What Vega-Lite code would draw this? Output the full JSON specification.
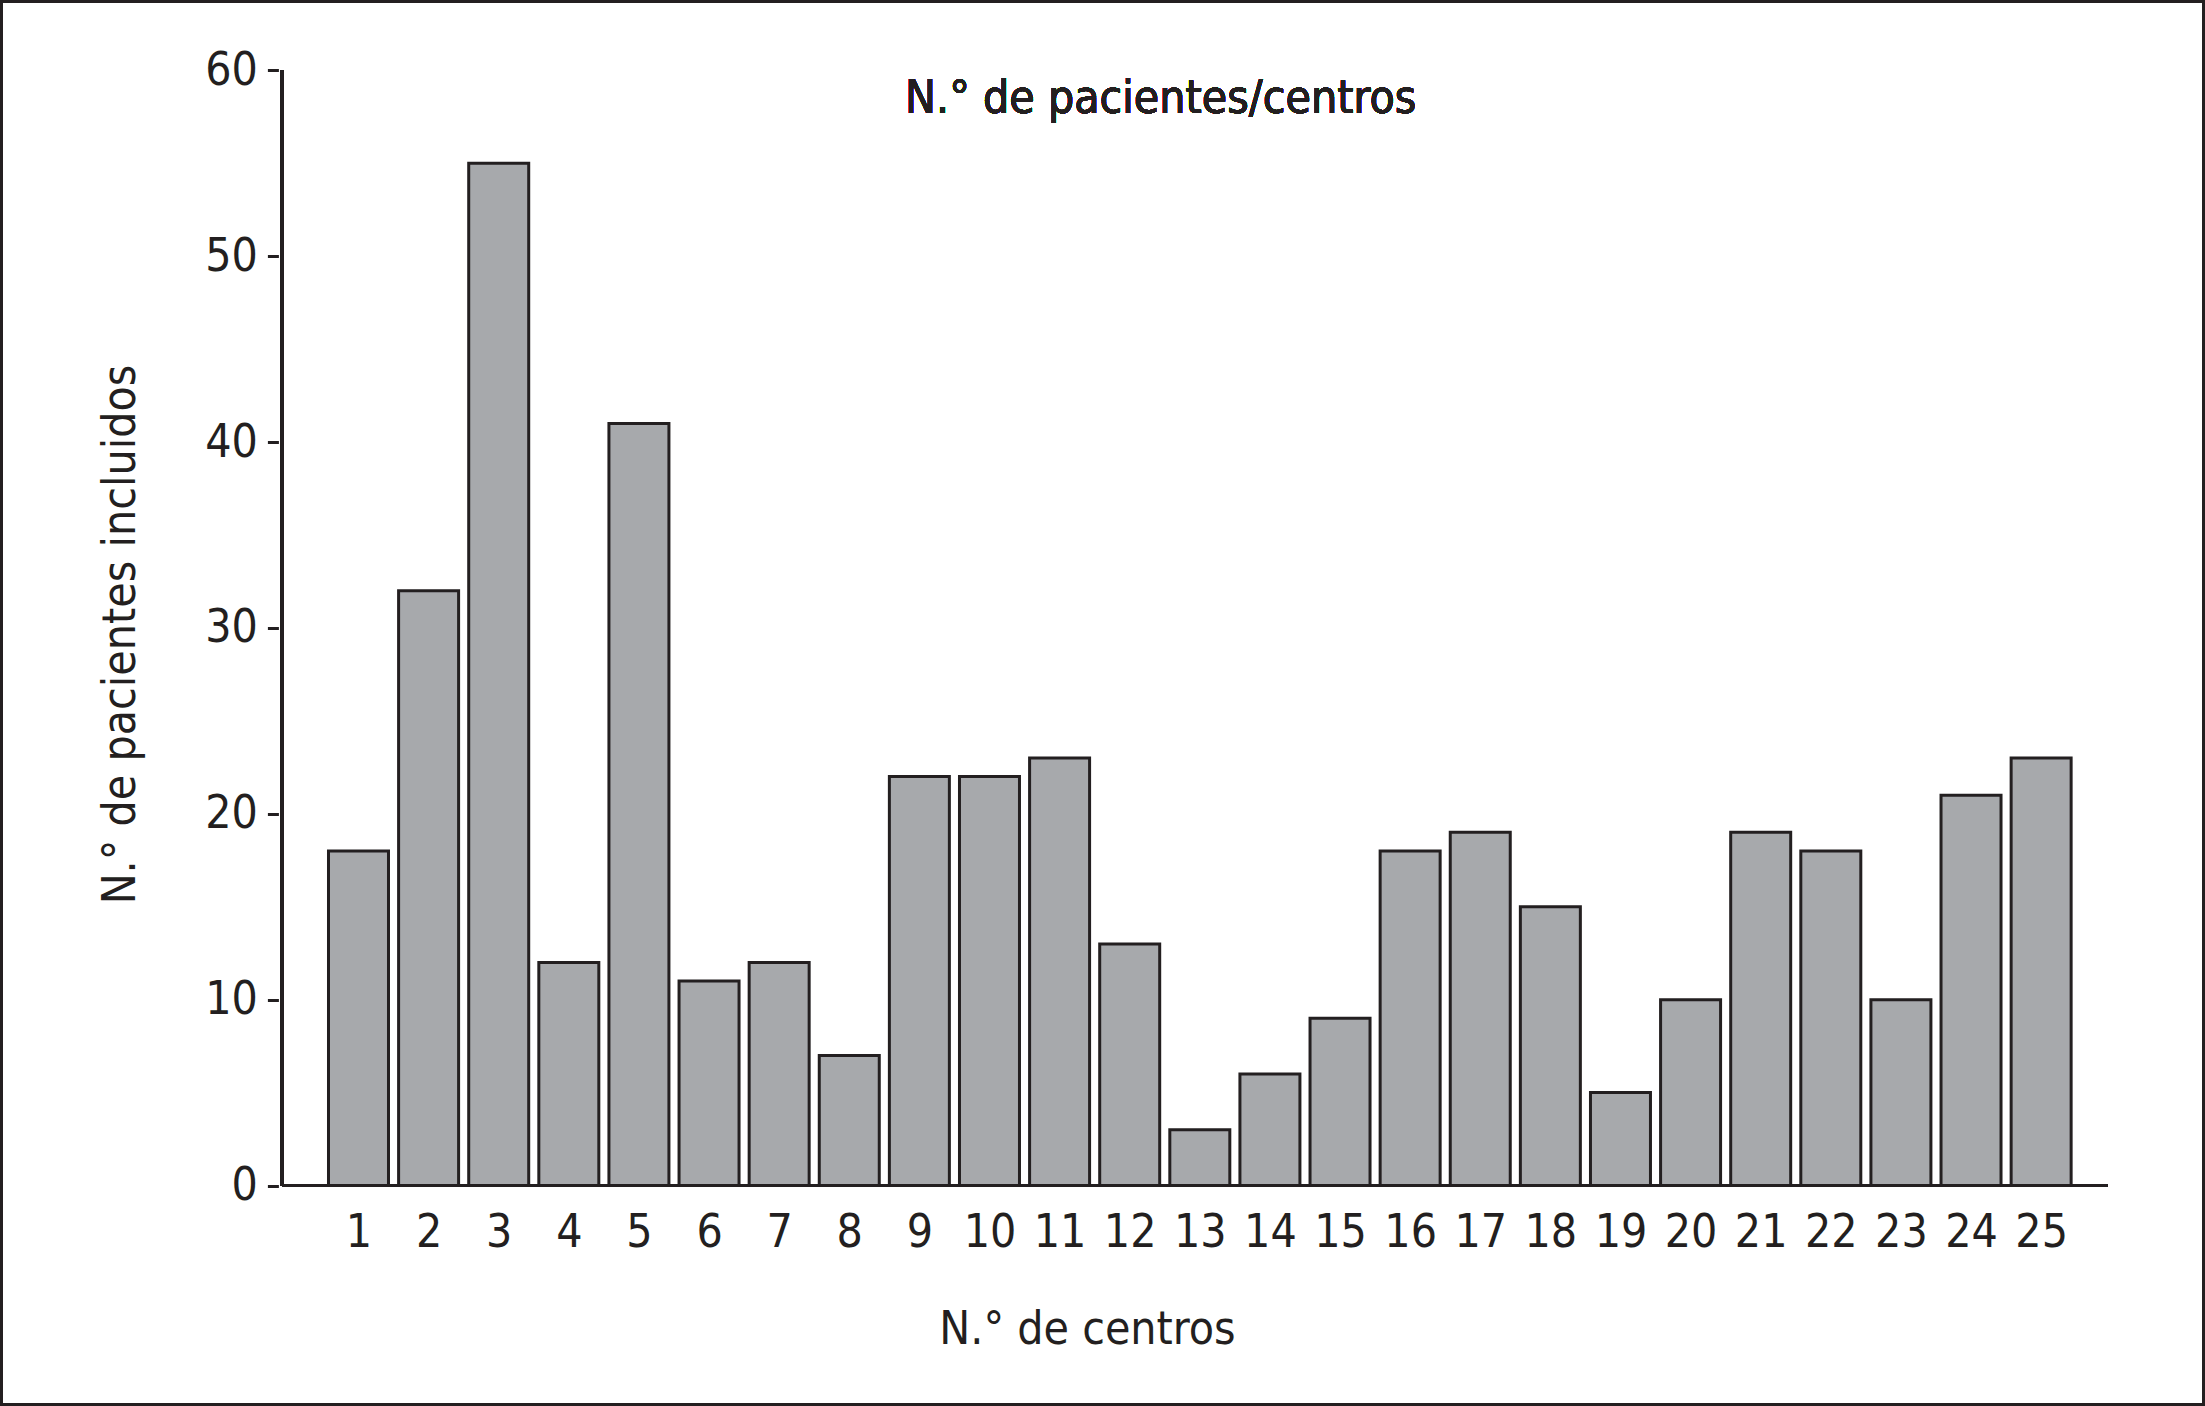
{
  "$schema": "https://vega.github.io/schema/vega-lite/v6.json",
  "width": 2205,
  "height": 1406,
  "autosize": {"type": "none"},
  "padding": 0,
  "background": "white",
  "config": {
    "view": {"stroke": "#231f20", "strokeWidth": 6},
    "font": "'Liberation Sans Narrow', 'DejaVu Sans Condensed', sans-serif",
    "axis": {
      "grid": false,
      "labelFontSize": 46,
      "labelColor": "#231f20",
      "titleFontSize": 46,
      "titleFontWeight": "normal",
      "titleColor": "#231f20",
      "labelOverlap": false,
      "labelFlush": false
    }
  },
  "data": {
    "values": [
      {"centro": 1, "pacientes": 18},
      {"centro": 2, "pacientes": 32},
      {"centro": 3, "pacientes": 55},
      {"centro": 4, "pacientes": 12},
      {"centro": 5, "pacientes": 41},
      {"centro": 6, "pacientes": 11},
      {"centro": 7, "pacientes": 12},
      {"centro": 8, "pacientes": 7},
      {"centro": 9, "pacientes": 22},
      {"centro": 10, "pacientes": 22},
      {"centro": 11, "pacientes": 23},
      {"centro": 12, "pacientes": 13},
      {"centro": 13, "pacientes": 3},
      {"centro": 14, "pacientes": 6},
      {"centro": 15, "pacientes": 9},
      {"centro": 16, "pacientes": 18},
      {"centro": 17, "pacientes": 19},
      {"centro": 18, "pacientes": 15},
      {"centro": 19, "pacientes": 5},
      {"centro": 20, "pacientes": 10},
      {"centro": 21, "pacientes": 19},
      {"centro": 22, "pacientes": 18},
      {"centro": 23, "pacientes": 10},
      {"centro": 24, "pacientes": 21},
      {"centro": 25, "pacientes": 23}
    ]
  },
  "layer": [
    {
      "mark": {"type": "bar", "size": 60, "fill": "#a7a9ac", "stroke": "#231f20", "strokeWidth": 3},
      "encoding": {
        "x": {
          "field": "centro",
          "type": "quantitative",
          "scale": {"domain": [-4.042, 27.266], "nice": false, "zero": false},
          "axis": {
            "orient": "bottom",
            "offset": -220.5,
            "values": [1,2,3,4,5,6,7,8,9,10,11,12,13,14,15,16,17,18,19,20,21,22,23,24,25],
            "format": "d",
            "domain": false,
            "ticks": false,
            "tickSize": 0,
            "labelPadding": 25,
            "labelBaseline": "top",
            "title": "N.° de centros",
            "titleX": 1087,
            "titleY": 157.5,
            "titleBaseline": "alphabetic",
            "titleAlign": "center"
          }
        },
        "y": {
          "field": "pacientes",
          "type": "quantitative",
          "scale": {"domain": [-11.863, 63.782], "nice": false, "zero": false},
          "axis": {
            "orient": "left",
            "offset": -278.4,
            "values": [0, 10, 20, 30, 40, 50, 60],
            "domain": false,
            "tickSize": 11,
            "tickWidth": 3,
            "tickColor": "#231f20",
            "labelPadding": 10,
            "title": "N.° de pacientes incluidos",
            "titleX": -158,
            "titleY": 634,
            "titleAngle": -90,
            "titleBaseline": "middle",
            "titleAlign": "center"
          }
        }
      }
    },
    {
      "mark": {"type": "rule", "stroke": "#231f20", "strokeWidth": 3},
      "encoding": {
        "x": {"datum": -0.089, "type": "quantitative"},
        "y": {"datum": 0, "type": "quantitative"},
        "y2": {"datum": 60}
      }
    },
    {
      "mark": {"type": "rule", "stroke": "#231f20", "strokeWidth": 3},
      "encoding": {
        "y": {"datum": 0, "type": "quantitative"},
        "x": {"datum": -0.089, "type": "quantitative"},
        "x2": {"datum": 25.945}
      }
    },
    {
      "mark": {"type": "text", "fontSize": 46, "color": "#231f20", "align": "center", "baseline": "alphabetic"},
      "encoding": {
        "x": {"datum": 12.442, "type": "quantitative"},
        "y": {"datum": 57.729, "type": "quantitative"},
        "text": {"value": "N.° de pacientes/centros"}
      }
    }
  ]
}
